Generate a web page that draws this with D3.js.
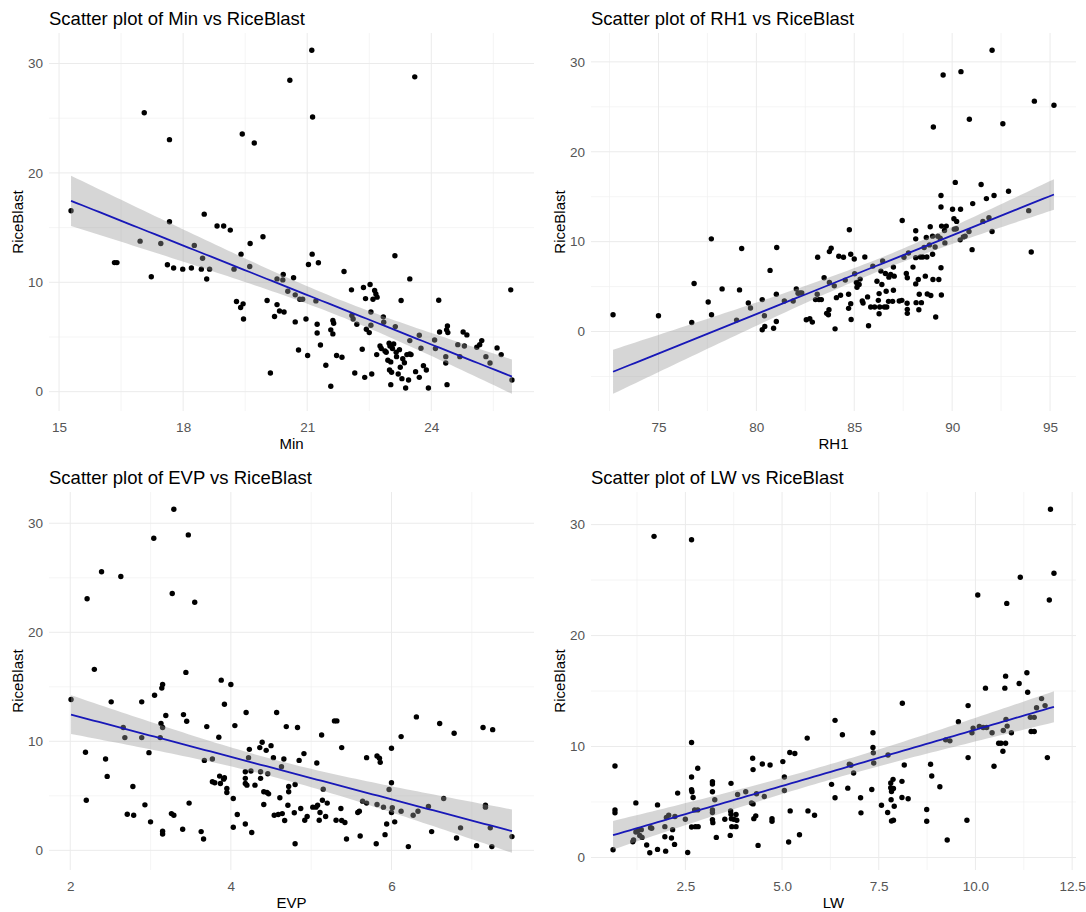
<!DOCTYPE html>
<html>
<head>
<meta charset="utf-8">
<script src="https://cdn.jsdelivr.net/npm/d3@7"></script>
<style>
  body { margin: 0; background: #fff; }
</style>
</head>
<body>
<div id="chart"></div>
<script>
// RiceBlast against each weather variable
const minPoints = [[15.29,16.54],[16.34,11.8],[16.40,11.8],[17.06,25.5],[16.96,13.76],[17.23,10.5],[17.46,13.55],[17.67,23.04],[17.67,15.53],[17.62,11.6],[17.77,11.3],[17.99,11.2],[18.20,11.3],[18.27,13.37],[18.44,11.2],[18.47,12.2],[18.51,16.23],[18.57,10.3],[18.64,11.2],[18.82,15.14],[18.98,15.14],[19.14,14.77],[19.23,11.2],[19.29,8.24],[19.39,7.69],[19.45,8.03],[19.46,6.65],[19.40,12.57],[19.43,23.56],[19.61,11.44],[19.62,13.55],[19.72,22.73],[19.93,14.16],[20.03,8.33],[20.11,1.71],[20.21,6.87],[20.27,10.31],[20.27,7.96],[20.33,7.38],[20.44,7.29],[20.42,10.71],[20.41,10.22],[20.53,9.18],[20.58,28.47],[20.67,10.41],[20.71,8.85],[20.71,6.38],[20.79,3.81],[20.82,8.45],[20.89,8.45],[20.97,6.65],[21.01,3.3],[21.03,11.63],[21.11,31.22],[21.12,12.57],[21.13,25.11],[21.21,8.3],[21.24,6.16],[21.24,5.37],[21.27,11.78],[21.32,4.27],[21.45,2.41],[21.57,0.49],[21.57,5.65],[21.62,5.28],[21.62,6.5],[21.64,6.26],[21.71,3.3],[21.84,3.14],[21.89,10.99],[22.07,9.31],[22.08,6.96],[22.11,6.65],[22.15,1.71],[22.20,6.16],[22.33,3.88],[22.36,9.52],[22.39,1.31],[22.41,8.51],[22.43,5.71],[22.50,5.4],[22.52,9.8],[22.54,7.29],[22.54,6.07],[22.56,1.62],[22.59,8.45],[22.63,9.25],[22.66,8.94],[22.69,8.64],[22.68,3.39],[22.76,4.18],[22.79,3.94],[22.84,6.84],[22.85,6.35],[22.88,3.72],[22.91,3.6],[22.95,2.87],[22.98,4.42],[22.99,1.98],[23.00,4.18],[23.02,0.64],[23.02,2.72],[23.04,1.77],[23.06,3.94],[23.09,4.36],[23.12,12.42],[23.13,5.95],[23.15,3.6],[23.16,3.2],[23.20,1.62],[23.23,3.84],[23.25,2.23],[23.27,8.33],[23.29,1.19],[23.31,3.02],[23.35,2.65],[23.38,0.34],[23.41,3.39],[23.45,1.07],[23.48,3.45],[23.48,10.31],[23.48,4.67],[23.51,3.39],[23.60,28.78],[23.62,1.83],[23.71,1.31],[23.71,5.16],[23.75,3.97],[23.81,2.38],[23.88,1.98],[23.93,0.34],[24.08,4.73],[24.10,3.94],[24.18,8.36],[24.20,5.46],[24.35,3.2],[24.35,2.62],[24.37,5.65],[24.38,0.64],[24.39,6.01],[24.40,5.4],[24.64,4.3],[24.69,3.2],[24.77,5.46],[24.80,4.18],[24.86,5.19],[25.10,4.06],[25.17,4.3],[25.22,4.67],[25.32,3.2],[25.42,2.62],[25.59,4.0],[25.69,3.39],[25.92,9.31],[25.95,1.07]];

const rh1Points = [[72.68,1.87],[75.00,1.76],[76.70,1.00],[76.82,5.34],[77.54,3.29],[77.70,10.31],[77.71,1.87],[78.25,4.74],[78.99,1.27],[79.14,4.63],[79.25,9.23],[79.59,3.18],[79.70,2.61],[80.30,3.55],[80.30,0.19],[80.43,0.56],[80.41,1.76],[80.70,6.80],[80.88,0.37],[81.02,1.12],[81.02,4.15],[81.04,9.34],[81.43,3.40],[81.88,3.40],[82.04,4.74],[82.13,4.26],[82.23,4.30],[82.32,4.30],[82.55,1.31],[82.73,1.42],[82.86,1.05],[83.13,8.26],[83.02,3.55],[83.20,3.55],[83.32,3.55],[83.11,4.15],[83.46,5.98],[83.59,2.02],[83.68,1.87],[83.71,2.43],[83.73,8.89],[83.82,9.26],[83.73,5.45],[83.98,5.08],[84.02,0.30],[84.09,3.77],[84.21,8.37],[84.30,4.03],[84.45,8.26],[84.54,5.72],[84.75,11.32],[84.71,4.15],[84.71,2.58],[84.82,3.10],[84.84,1.34],[84.82,8.59],[85.00,8.07],[85.02,6.43],[85.11,5.45],[85.14,4.93],[85.25,5.23],[85.30,5.83],[85.41,3.40],[85.45,3.18],[85.54,8.29],[85.68,3.85],[85.73,0.64],[85.84,2.73],[85.95,7.28],[86.04,2.73],[86.16,5.60],[86.23,3.47],[86.27,1.98],[86.27,4.22],[86.30,2.73],[86.41,5.23],[86.36,6.72],[86.45,7.84],[86.54,2.73],[86.63,4.48],[86.59,6.46],[86.66,2.73],[86.75,3.36],[86.77,6.05],[86.86,6.35],[86.96,3.36],[87.00,7.17],[87.00,4.59],[87.04,6.16],[87.30,3.40],[87.43,3.47],[87.45,12.36],[87.54,8.26],[87.66,6.46],[87.71,5.98],[87.70,3.14],[87.71,2.47],[87.71,2.02],[87.77,8.74],[88.00,7.17],[88.14,11.21],[88.14,10.31],[88.14,8.22],[88.14,5.30],[88.16,3.21],[88.27,5.79],[88.30,2.43],[88.32,4.15],[88.38,8.29],[88.43,3.21],[88.50,8.29],[88.57,9.34],[88.63,6.16],[88.68,10.46],[88.71,8.29],[88.73,4.18],[88.84,9.64],[88.88,11.65],[88.91,4.00],[89.00,8.59],[89.00,10.61],[89.02,5.79],[89.04,22.75],[89.13,9.41],[89.16,1.61],[89.27,10.61],[89.32,5.79],[89.39,10.38],[89.43,15.13],[89.43,13.86],[89.45,4.07],[89.43,7.10],[89.46,11.73],[89.54,28.54],[89.61,11.24],[89.63,9.86],[89.70,11.73],[90.02,13.60],[90.09,12.55],[90.11,11.39],[90.16,16.59],[90.21,11.43],[90.23,12.25],[90.41,10.20],[90.43,13.60],[90.45,28.91],[90.57,10.53],[90.66,10.61],[90.86,11.13],[90.88,23.61],[91.02,9.11],[91.05,14.23],[91.48,16.36],[91.57,12.25],[91.75,14.79],[91.88,12.66],[92.04,11.13],[92.04,31.30],[92.14,15.13],[92.59,23.12],[92.88,15.61],[93.91,13.45],[94.04,8.85],[94.20,25.63],[95.20,25.18]];

const evpPoints = [[2.01,13.83],[2.19,8.99],[2.20,4.60],[2.21,23.07],[2.30,16.60],[2.39,25.55],[2.44,8.37],[2.46,6.78],[2.51,13.62],[2.63,25.12],[2.66,11.26],[2.68,10.34],[2.71,3.31],[2.78,5.86],[2.79,3.22],[2.89,13.62],[2.89,10.34],[2.93,4.17],[2.98,8.96],[3.00,2.61],[3.04,28.62],[3.05,14.23],[3.12,10.34],[3.13,11.63],[3.14,14.88],[3.15,15.21],[3.15,11.26],[3.15,1.75],[3.15,1.50],[3.19,12.36],[3.26,3.37],[3.29,3.22],[3.27,23.56],[3.29,31.29],[3.40,1.93],[3.41,12.45],[3.44,16.32],[3.45,11.84],[3.47,28.93],[3.48,4.33],[3.55,22.76],[3.63,1.72],[3.66,1.04],[3.67,8.25],[3.70,11.35],[3.77,8.37],[3.77,6.29],[3.80,6.20],[3.85,10.37],[3.86,6.81],[3.88,15.61],[3.87,6.13],[3.91,6.53],[3.92,13.40],[3.92,6.66],[3.95,5.67],[3.95,5.31],[4.00,15.21],[4.03,4.75],[4.03,2.12],[4.05,11.44],[4.08,3.28],[4.18,2.42],[4.18,7.21],[4.18,6.60],[4.18,6.13],[4.19,12.64],[4.20,5.98],[4.22,8.50],[4.23,9.26],[4.25,7.27],[4.26,1.63],[4.30,5.98],[4.36,9.42],[4.37,6.60],[4.37,7.21],[4.39,9.91],[4.41,4.20],[4.41,5.37],[4.44,9.17],[4.45,5.31],[4.46,7.02],[4.47,5.18],[4.50,9.60],[4.53,8.50],[4.54,3.22],[4.57,12.64],[4.59,3.28],[4.61,4.82],[4.63,7.67],[4.64,3.37],[4.66,8.37],[4.67,2.73],[4.69,11.35],[4.71,4.14],[4.72,5.37],[4.72,5.86],[4.79,3.44],[4.80,0.61],[4.80,6.04],[4.83,11.26],[4.85,8.25],[4.87,3.83],[4.91,8.87],[4.92,2.76],[4.95,3.10],[5.02,3.96],[5.06,3.96],[5.07,8.01],[5.08,4.14],[5.10,2.76],[5.11,3.47],[5.13,10.58],[5.14,4.60],[5.15,5.61],[5.18,3.10],[5.20,4.33],[5.29,11.87],[5.32,11.87],[5.31,2.76],[5.37,3.83],[5.38,9.42],[5.38,2.73],[5.42,2.55],[5.44,1.04],[5.58,3.47],[5.60,3.59],[5.61,1.32],[5.64,4.51],[5.69,4.33],[5.69,8.50],[5.81,0.61],[5.82,4.20],[5.82,8.65],[5.85,8.44],[5.86,8.07],[5.90,3.96],[5.92,1.44],[5.94,2.42],[5.97,5.58],[6.00,9.36],[6.00,6.20],[6.00,3.47],[6.01,3.90],[6.04,2.61],[6.12,10.43],[6.12,3.59],[6.21,0.34],[6.27,3.22],[6.31,12.24],[6.33,3.59],[6.46,4.02],[6.50,1.72],[6.60,11.63],[6.65,4.75],[6.78,10.74],[6.81,1.13],[6.86,2.06],[7.06,0.43],[7.14,11.26],[7.17,4.14],[7.17,3.96],[7.26,11.07],[7.23,2.06],[7.25,0.34],[7.50,1.26]];

const lwPoints = [[0.63,0.69],[0.68,8.25],[0.68,4.29],[0.68,4.02],[1.14,1.42],[1.16,1.57],[1.22,4.92],[1.22,2.30],[1.27,2.42],[1.32,1.99],[1.36,2.51],[1.38,1.81],[1.50,1.12],[1.58,0.42],[1.60,2.69],[1.63,2.63],[1.69,28.94],[1.78,0.73],[1.78,4.74],[1.97,2.78],[1.97,1.87],[1.99,0.57],[2.01,3.60],[2.07,3.81],[2.14,1.75],[2.17,2.51],[2.22,1.18],[2.23,3.69],[2.30,5.80],[2.50,3.44],[2.56,0.45],[2.66,28.64],[2.66,10.36],[2.66,7.25],[2.66,6.10],[2.67,5.92],[2.70,5.41],[2.66,2.75],[2.76,2.78],[2.74,4.29],[2.82,8.04],[2.83,2.78],[2.82,4.29],[3.20,6.83],[3.20,6.62],[3.20,5.92],[3.20,4.29],[3.20,4.05],[3.20,3.41],[3.21,3.14],[3.26,5.20],[3.30,1.81],[3.52,3.44],[3.66,1.99],[3.68,6.68],[3.67,4.20],[3.68,3.90],[3.69,3.50],[3.70,2.78],[3.75,3.44],[3.81,3.87],[3.81,2.78],[3.83,3.35],[3.85,5.68],[4.06,5.92],[4.21,4.92],[4.24,8.94],[4.25,7.92],[4.25,4.83],[4.27,3.50],[4.32,3.75],[4.34,5.74],[4.38,1.09],[4.49,8.43],[4.54,5.50],[4.69,8.34],[4.74,3.50],[4.74,3.26],[5.02,8.64],[5.06,7.25],[5.06,6.04],[5.17,1.39],[5.21,4.20],[5.20,9.46],[5.33,9.37],[5.45,2.05],[5.65,10.76],[5.67,4.20],[5.84,3.81],[6.28,6.59],[6.37,12.36],[6.37,5.38],[6.56,11.06],[6.70,6.25],[6.74,8.40],[6.78,8.31],[6.85,7.61],[7.03,5.38],[7.04,4.02],[7.32,6.13],[7.35,11.24],[7.35,9.91],[7.36,9.43],[7.37,8.52],[7.57,4.71],[7.73,4.05],[7.74,9.24],[7.81,6.71],[7.81,6.28],[7.82,5.20],[7.83,3.29],[7.83,5.95],[7.87,7.04],[7.88,6.22],[7.88,3.35],[7.90,4.62],[8.10,6.86],[8.10,5.41],[8.11,13.90],[8.16,8.34],[8.26,5.29],[8.74,4.32],[8.74,3.26],[8.84,8.40],[8.87,7.34],[9.08,6.37],[9.23,10.60],[9.27,1.57],[9.34,10.51],[9.56,12.24],[9.78,3.35],[9.81,13.69],[9.81,9.00],[9.91,11.24],[9.94,11.66],[10.06,23.66],[10.10,11.81],[10.20,11.72],[10.26,15.26],[10.29,11.72],[10.43,11.24],[10.48,8.22],[10.60,10.30],[10.66,10.30],[10.71,9.58],[10.72,11.45],[10.76,15.26],[10.78,16.34],[10.79,12.45],[10.78,10.30],[10.81,22.90],[10.82,11.84],[10.93,11.24],[11.13,15.68],[11.16,25.26],[11.33,16.65],[11.35,14.89],[11.42,12.63],[11.44,11.36],[11.52,12.63],[11.52,11.36],[11.58,13.50],[11.71,14.32],[11.80,13.69],[11.86,9.00],[11.91,23.20],[11.94,31.39],[12.03,25.62]];

const blastTicks = [0, 10, 20, 30];
const minTicks = [15, 18, 21, 24];
const rh1Ticks = [75, 80, 85, 90, 95];
const evpTicks = [2, 4, 6];
const lwTicks = [2.5, 5.0, 7.5, 10.0, 12.5];

const panels = [
    { name: "Min", points: minPoints, xTicks: minTicks, fmt: d3.format("d"), col: 0, row: 0 },
    { name: "RH1", points: rh1Points, xTicks: rh1Ticks, fmt: d3.format("d"), col: 1, row: 0 },
    { name: "EVP", points: evpPoints, xTicks: evpTicks, fmt: d3.format("d"), col: 0, row: 1 },
    { name: "LW", points: lwPoints, xTicks: lwTicks, fmt: d3.format(".1f"), col: 1, row: 1 }
];

const width = 1086, height = 912;
const plotW = 485, plotH = 378;
const colLeft = [49, 591];
const rowTop = [33, 492];
const tCrit = 1.975;
const fontFamily = "'Liberation Sans', Arial, sans-serif";

const svg = d3.select("#chart")
    .append("svg")
    .attr("width", width)
    .attr("height", height)
    .style("font-family", fontFamily);

// ordinary least squares with a 95% band for the mean, like geom_smooth(method = "lm")
function fitLine(pts) {
    const n = pts.length;
    const mx = d3.mean(pts, d => d[0]), my = d3.mean(pts, d => d[1]);
    const sxx = d3.sum(pts, d => (d[0] - mx) ** 2);
    const sxy = d3.sum(pts, d => (d[0] - mx) * (d[1] - my));
    const b = sxy / sxx, a = my - b * mx;
    const sse = d3.sum(pts, d => (d[1] - a - b * d[0]) ** 2);
    const s = Math.sqrt(sse / (n - 2));
    const [lo, hi] = d3.extent(pts, d => d[0]);
    return d3.range(80).map(i => {
        const x = lo + (hi - lo) * i / 79;
        const yhat = a + b * x;
        const se = s * Math.sqrt(1 / n + (x - mx) ** 2 / sxx);
        return { x: x, y: yhat, lo: yhat - tCrit * se, hi: yhat + tCrit * se };
    });
}

function minorOf(ticks, domain) {
    const step = ticks[1] - ticks[0];
    const m = ticks.map(t => t - step / 2).concat([ticks[ticks.length - 1] + step / 2]);
    return m.filter(v => v >= domain[0] && v <= domain[1]);
}

function drawPanel(p) {
    const fit = fitLine(p.points);
    const [x0, x1] = d3.extent(p.points, d => d[0]);
    const xPad = (x1 - x0) * 0.05;
    const yAll = p.points.map(d => d[1]).concat(fit.map(d => d.lo), fit.map(d => d.hi));
    const [y0, y1] = d3.extent(yAll);
    const yPad = (y1 - y0) * 0.05;

    const x = d3.scaleLinear().domain([x0 - xPad, x1 + xPad]).range([0, plotW]);
    const y = d3.scaleLinear().domain([y0 - yPad, y1 + yPad]).range([plotH, 0]);

    const g = svg.append("g")
        .attr("transform", `translate(${colLeft[p.col]},${rowTop[p.row]})`);

    // grid
    const grid = g.append("g");
    grid.selectAll(".vminor").data(minorOf(p.xTicks, x.domain())).enter()
        .append("line")
        .attr("x1", d => x(d)).attr("x2", d => x(d))
        .attr("y1", 0).attr("y2", plotH)
        .attr("stroke", "#f1f1f1").attr("stroke-width", 0.7);
    grid.selectAll(".hminor").data(minorOf(blastTicks, y.domain())).enter()
        .append("line")
        .attr("y1", d => y(d)).attr("y2", d => y(d))
        .attr("x1", 0).attr("x2", plotW)
        .attr("stroke", "#f1f1f1").attr("stroke-width", 0.7);
    grid.selectAll(".vmajor").data(p.xTicks).enter()
        .append("line")
        .attr("x1", d => x(d)).attr("x2", d => x(d))
        .attr("y1", 0).attr("y2", plotH)
        .attr("stroke", "#ebebeb").attr("stroke-width", 1);
    grid.selectAll(".hmajor").data(blastTicks.filter(v => v >= y.domain()[0])).enter()
        .append("line")
        .attr("y1", d => y(d)).attr("y2", d => y(d))
        .attr("x1", 0).attr("x2", plotW)
        .attr("stroke", "#ebebeb").attr("stroke-width", 1);

    // points
    g.append("g").selectAll("circle").data(p.points).enter()
        .append("circle")
        .attr("cx", d => x(d[0]))
        .attr("cy", d => y(d[1]))
        .attr("r", 2.7)
        .attr("fill", "#000");

    // confidence band, then fitted line
    g.append("path")
        .datum(fit)
        .attr("d", d3.area().x(d => x(d.x)).y0(d => y(d.lo)).y1(d => y(d.hi)))
        .attr("fill", "#999999")
        .attr("fill-opacity", 0.4);
    g.append("path")
        .datum(fit)
        .attr("d", d3.line().x(d => x(d.x)).y(d => y(d.y)))
        .attr("fill", "none")
        .attr("stroke", "#1818b8")
        .attr("stroke-width", 1.8);

    // axes
    const xAxis = g.append("g")
        .attr("transform", `translate(0,${plotH})`)
        .call(d3.axisBottom(x).tickValues(p.xTicks).tickFormat(p.fmt).tickSize(0).tickPadding(11));
    const yAxis = g.append("g")
        .call(d3.axisLeft(y).tickValues(blastTicks).tickSize(0).tickPadding(6));
    [xAxis, yAxis].forEach(a => {
        a.select(".domain").remove();
        a.selectAll("text")
            .attr("fill", "#555")
            .style("font-size", "13.5px")
            .style("font-family", fontFamily);
    });

    // titles
    g.append("text")
        .attr("x", 0).attr("y", -8)
        .style("font-size", "18.5px")
        .attr("fill", "#000")
        .text(`Scatter plot of ${p.name} vs RiceBlast`);
    g.append("text")
        .attr("x", plotW / 2).attr("y", plotH + 33)
        .attr("dy", "0.35em")
        .attr("text-anchor", "middle")
        .style("font-size", "15px")
        .attr("fill", "#000")
        .text(p.name);
    g.append("text")
        .attr("transform", `translate(-31,${plotH / 2}) rotate(-90)`)
        .attr("dy", "0.35em")
        .attr("text-anchor", "middle")
        .style("font-size", "15px")
        .attr("fill", "#000")
        .text("RiceBlast");
}

panels.forEach(drawPanel);
</script>
</body>
</html>
